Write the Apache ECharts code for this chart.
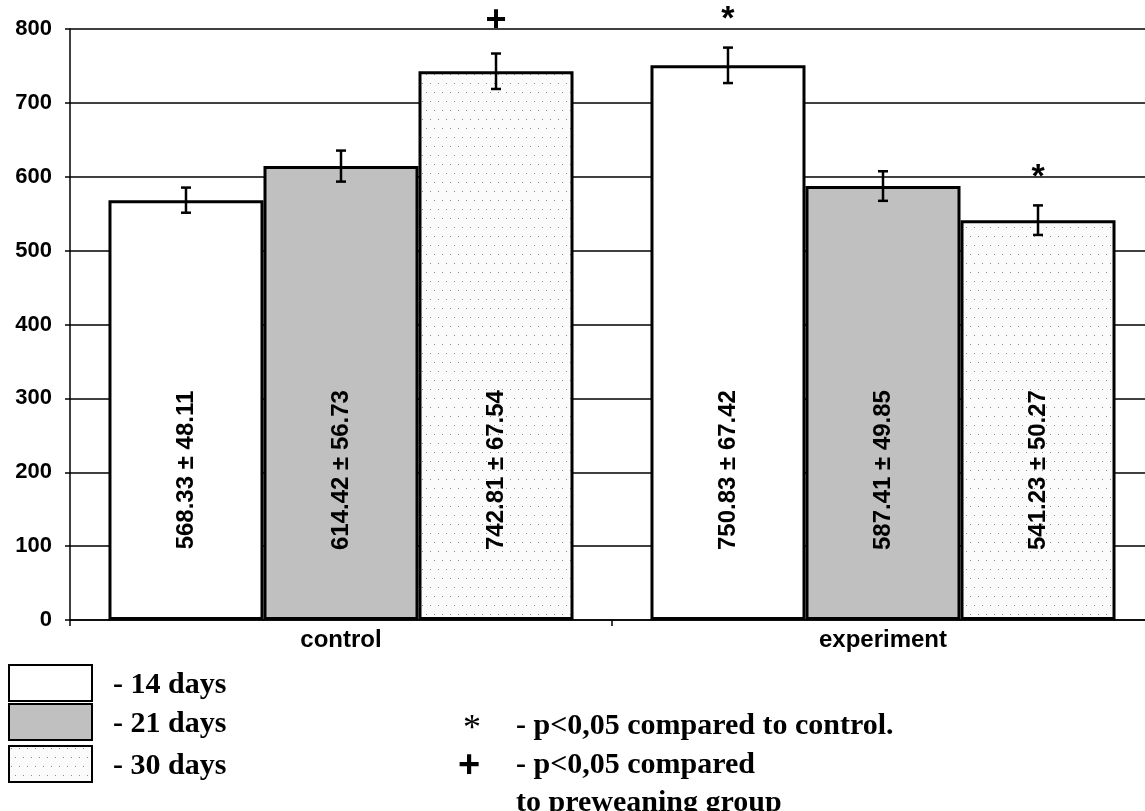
<!DOCTYPE html>
<html>
<head>
<meta charset="utf-8">
<script src="https://cdn.jsdelivr.net/npm/echarts@6/dist/echarts.min.js"></script>
<style>
  html, body { margin: 0; padding: 0; background: #fff; }
  #chart { width: 1145px; height: 811px; }
</style>
</head>
<body>
<div id="chart"></div>
<script>
// data
const groups = ['control', 'experiment'];
const periods = ['- 14 days', '- 21 days', '- 30 days'];
const means14 = [568.33, 750.83];
const means21 = [614.42, 587.41];
const means30 = [742.81, 541.23];
const sd14 = [48.11, 67.42];
const sd21 = [56.73, 49.85];
const sd30 = [67.54, 50.27];
// error bars as drawn (they are shorter than the SD in the labels)
const err14 = [17, 24];
const err21 = [21, 20];
const err30 = [24, 20];
const marks14 = ['', '*'];
const marks21 = ['', ''];
const marks30 = ['+', '*'];
const yTicks = [0, 100, 200, 300, 400, 500, 600, 700, 800];

const SANS = '"Liberation Sans", Arial, sans-serif';
const SERIF = '"Liberation Serif", "Times New Roman", serif';

// dotted fill for the 30 days bars
function dotPattern() {
  const c = document.createElement('canvas');
  c.width = 16; c.height = 18;
  const ctx = c.getContext('2d');
  ctx.fillStyle = '#fbfbfb';
  ctx.fillRect(0, 0, 16, 18);
  ctx.fillStyle = '#8a8a8a';
  ctx.fillRect(2, 2, 1, 1);
  ctx.fillRect(10, 2, 1, 1);
  ctx.fillRect(6, 11, 1, 1);
  ctx.fillRect(14, 11, 1, 1);
  return c;
}
const dots = dotPattern();
const fills = ['#ffffff', '#c0c0c0', { image: dots, repeat: 'repeat' }];

const means = [means14, means21, means30];
const sds = [sd14, sd21, sd30];
const errs = [err14, err21, err30];
const marks = [marks14, marks21, marks30];

// one item per bar: [group index, period index]
const barItems = [];
groups.forEach((g, gi) => periods.forEach((p, pi) => barItems.push([gi, pi])));

const GAP = 0.142;

function renderExtras(params, api) {
  const gi = api.value(0), pi = api.value(1);
  const v = means[pi][gi], e = errs[pi][gi];
  const catW = api.size([1, 0])[0];
  const barW = catW * (1 - GAP) / 3;
  const dx = (pi - 1) * barW;
  const top = api.coord([gi, v + e]);
  const bot = api.coord([gi, v - e]);
  const x = top[0] + dx;
  const mid = api.coord([gi, 203]);
  const children = [
    { type: 'line', shape: { x1: x, y1: top[1], x2: x, y2: bot[1] }, style: { stroke: '#000', lineWidth: 2.5 } },
    { type: 'line', shape: { x1: x - 5, y1: top[1], x2: x + 5, y2: top[1] }, style: { stroke: '#000', lineWidth: 2.5 } },
    { type: 'line', shape: { x1: x - 5, y1: bot[1], x2: x + 5, y2: bot[1] }, style: { stroke: '#000', lineWidth: 2.5 } },
    {
      type: 'text', x: x, y: mid[1], rotation: Math.PI / 2,
      style: {
        text: v.toFixed(2) + ' ± ' + sds[pi][gi].toFixed(2),
        font: 'bold 24px ' + SANS, fill: '#000', align: 'center', verticalAlign: 'middle'
      }
    }
  ];
  const m = marks[pi][gi];
  if (m) {
    const mp = api.coord([gi, v + e + (m === '+' ? 44 : 38)]);
    children.push({
      type: 'text', x: x, y: mp[1],
      style: {
        text: m, font: 'bold ' + (m === '+' ? 36 : 34) + 'px ' + SANS,
        fill: '#000', align: 'center', verticalAlign: 'middle'
      }
    });
  }
  return { type: 'group', children: children };
}

const chart = echarts.init(document.getElementById('chart'));

const legendGraphics = [];
const boxTops = [664, 703, 745];
const textTops = [670, 709, 751];
periods.forEach((p, i) => {
  legendGraphics.push({
    type: 'rect', left: 8, top: boxTops[i],
    shape: { width: 83, height: 36 },
    style: { fill: fills[i], stroke: '#000', lineWidth: 2 }
  });
  legendGraphics.push({
    type: 'text', left: 113, top: textTops[i],
    style: { text: p, font: 'bold 30px ' + SERIF, fill: '#000' }
  });
});
legendGraphics.push(
  { type: 'text', left: 463, top: 712, style: { text: '*', font: '36px ' + SERIF, fill: '#000' } },
  { type: 'text', left: 458, top: 748, style: { text: '+', font: 'bold 38px ' + SANS, fill: '#000' } },
  { type: 'text', left: 516, top: 711, style: { text: '- p<0,05 compared to control.', font: 'bold 30px ' + SERIF, fill: '#000' } },
  { type: 'text', left: 516, top: 750, style: { text: '- p<0,05 compared', font: 'bold 30px ' + SERIF, fill: '#000' } },
  { type: 'text', left: 516, top: 788, style: { text: 'to preweaning group', font: 'bold 30px ' + SERIF, fill: '#000' } }
);

chart.setOption({
  animation: false,
  grid: { left: 70, width: 1084, top: 29, bottom: 191, containLabel: false, outerBoundsMode: 'none' },
  xAxis: {
    type: 'category',
    data: groups,
    axisLine: { lineStyle: { color: '#000', width: 1.5 } },
    axisTick: { show: true, length: 6, lineStyle: { color: '#000', width: 1.5 } },
    axisLabel: { color: '#000', fontFamily: SANS, fontWeight: 'bold', fontSize: 24, margin: 8 }
  },
  yAxis: {
    type: 'value',
    min: yTicks[0], max: yTicks[yTicks.length - 1], interval: 100,
    axisLine: { show: true, lineStyle: { color: '#000', width: 1.5 } },
    axisTick: { show: true, length: 5, lineStyle: { color: '#000', width: 1.5 } },
    splitLine: { lineStyle: { color: '#000', width: 1.5 } },
    axisLabel: { color: '#000', fontFamily: SANS, fontWeight: 'bold', fontSize: 22, margin: 18 }
  },
  series: [
    ...periods.map((p, i) => ({
      name: p,
      type: 'bar',
      data: means[i],
      barGap: '0%',
      barCategoryGap: (GAP * 100) + '%',
      itemStyle: { color: fills[i], borderColor: '#000', borderWidth: 3 }
    })),
    {
      type: 'custom',
      data: barItems,
      renderItem: renderExtras,
      z: 5
    }
  ],
  graphic: legendGraphics
});
</script>
</body>
</html>
